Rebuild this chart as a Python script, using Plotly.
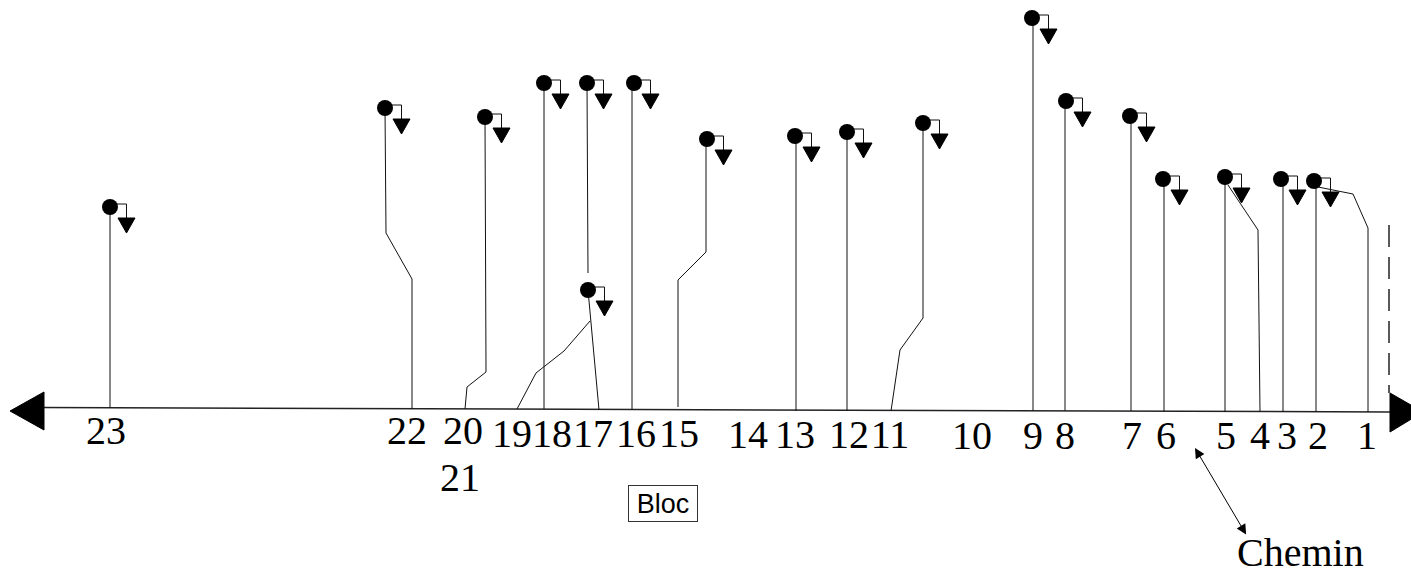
import plotly.graph_objects as go

# ---- data (pixel-space schematic) ----
label_text = ["23", "22", "20", "21", "19", "18", "17", "16", "15", "14", "13", "12",
              "11", "10", "9", "8", "7", "6", "5", "4", "3", "2", "1"]
label_x = [106, 407, 463, 460, 512, 552, 593, 636, 679, 748, 795, 849,
           890, 972, 1033, 1065, 1132, 1166, 1226, 1260, 1287, 1318, 1367]
label_y = [434, 434, 434, 481, 437, 437, 437, 437, 437, 438, 438, 438,
           438, 439, 439, 439, 439, 439, 439, 439, 439, 439, 439]

# well traces (base -> top), polylines
well_paths_x = [
    [110, 110],
    [412, 412, 386, 385],
    [465, 467, 486, 485],
    [517, 536, 564, 590],
    [544, 544],
    [599, 588],
    [588, 587],
    [632, 632],
    [678, 678, 706, 706],
    [796, 796],
    [847, 847],
    [891, 900, 923, 923],
    [1033, 1033],
    [1065, 1065],
    [1131, 1131],
    [1164, 1164],
    [1225, 1225],
    [1260, 1258, 1228],
    [1283, 1283],
    [1316, 1316],
    [1368, 1368, 1353, 1318],
]
well_paths_y = [
    [408, 207],
    [409, 279, 233, 108],
    [409, 387, 372, 117],
    [409, 373, 351, 321],
    [409, 83],
    [410, 290],
    [273, 83],
    [410, 83],
    [407, 280, 252, 139],
    [411, 136],
    [411, 132],
    [411, 350, 318, 123],
    [411, 18],
    [411, 101],
    [411, 116],
    [412, 179],
    [412, 177],
    [412, 230, 185],
    [412, 179],
    [412, 181],
    [412, 228, 194, 187],
]

# wellheads (circles with valve hook + triangle)
head_x = [110, 385, 485, 588, 544, 587, 634, 707, 795, 847, 923, 1032, 1066, 1130, 1163, 1225, 1281, 1314]
head_y = [207, 108, 117, 290, 83, 83, 83, 139, 136, 132, 123, 18, 101, 116, 179, 177, 179, 181]

# main axis line and its end arrows
axis_x = [40, 1390]
axis_y = [407.5, 412]
left_arrow_x = [10, 44, 44]
left_arrow_y = [411, 392, 430]
right_arrow_x = [1390, 1390, 1423]
right_arrow_y = [393, 432, 412]
dash_x = [1389, 1389]
dash_y = [225, 393]

# ---- style constants ----
HOOK_DX = 16.5
HOOK_DY = -3
TRI_TOP = 11
TRI_H = 15
TRI_HALF_W = 8.5

fig = go.Figure()

# axis line
fig.add_trace(go.Scatter(x=axis_x, y=axis_y, mode="lines",
                         line=dict(color="#222", width=1.5), hoverinfo="skip"))
# arrows
for ax_, ay_ in [(left_arrow_x, left_arrow_y), (right_arrow_x, right_arrow_y)]:
    fig.add_trace(go.Scatter(x=ax_ + [ax_[0]], y=ay_ + [ay_[0]], mode="lines",
                             fill="toself", fillcolor="black",
                             line=dict(color="black", width=1), hoverinfo="skip"))
# dashed line
fig.add_trace(go.Scatter(x=dash_x, y=dash_y, mode="lines",
                         line=dict(color="black", width=1.3, dash="22px,10px"), hoverinfo="skip"))

# well paths
px, py = [], []
for xs, ys in zip(well_paths_x, well_paths_y):
    px += xs + [None]
    py += ys + [None]
fig.add_trace(go.Scatter(x=px, y=py, mode="lines",
                         line=dict(color="#111", width=1), hoverinfo="skip"))

# hooks
hx, hy = [], []
tx, ty = [], []
for cx, cy in zip(head_x, head_y):
    hx += [cx, cx + HOOK_DX, cx + HOOK_DX, None]
    hy += [cy + HOOK_DY, cy + HOOK_DY, cy + TRI_TOP, None]
    tcx = cx + HOOK_DX
    tx += [tcx - TRI_HALF_W, tcx + TRI_HALF_W, tcx, tcx - TRI_HALF_W, None]
    ty += [cy + TRI_TOP, cy + TRI_TOP, cy + TRI_TOP + TRI_H, cy + TRI_TOP, None]
fig.add_trace(go.Scatter(x=hx, y=hy, mode="lines",
                         line=dict(color="#111", width=1), hoverinfo="skip"))
fig.add_trace(go.Scatter(x=tx, y=ty, mode="lines", fill="toself", fillcolor="black",
                         line=dict(color="black", width=1), hoverinfo="skip"))
# circles
fig.add_trace(go.Scatter(x=head_x, y=head_y, mode="markers",
                         marker=dict(symbol="circle", size=16, color="black"), hoverinfo="skip"))

# labels
fig.add_trace(go.Scatter(x=label_x, y=label_y, mode="text", text=label_text,
                         textposition="middle center",
                         textfont=dict(family="Liberation Serif", size=40, color="black"),
                         hoverinfo="skip"))

# Bloc box
fig.add_annotation(x=663, y=503, xref="x", yref="y", text="Bloc", showarrow=False,
                   font=dict(family="Liberation Sans", size=27, color="black"),
                   width=66, height=33, borderpad=1,
                   bordercolor="#333", borderwidth=1, bgcolor="white")
# Chemin
fig.add_annotation(x=1300, y=552, xref="x", yref="y", text="Chemin", showarrow=False,
                   font=dict(family="Liberation Serif", size=40, color="black"))
# double arrow
fig.add_annotation(x=1195, y=448, ax=1247, ay=536, xref="x", yref="y", axref="x", ayref="y",
                   text="", showarrow=True, arrowside="end+start", arrowhead=2,
                   arrowsize=2, arrowwidth=1, arrowcolor="black")

fig.update_layout(
    width=1411, height=578,
    margin=dict(l=0, r=0, t=0, b=0),
    paper_bgcolor="white", plot_bgcolor="white",
    showlegend=False,
    xaxis=dict(range=[0, 1411], visible=False, fixedrange=True),
    yaxis=dict(range=[578, 0], visible=False, fixedrange=True),
)

fig.write_html("out.html", config={"displayModeBar": False},
               post_script="document.body.style.margin='0';document.body.style.padding='0';"
                           "document.body.style.overflow='hidden';")
